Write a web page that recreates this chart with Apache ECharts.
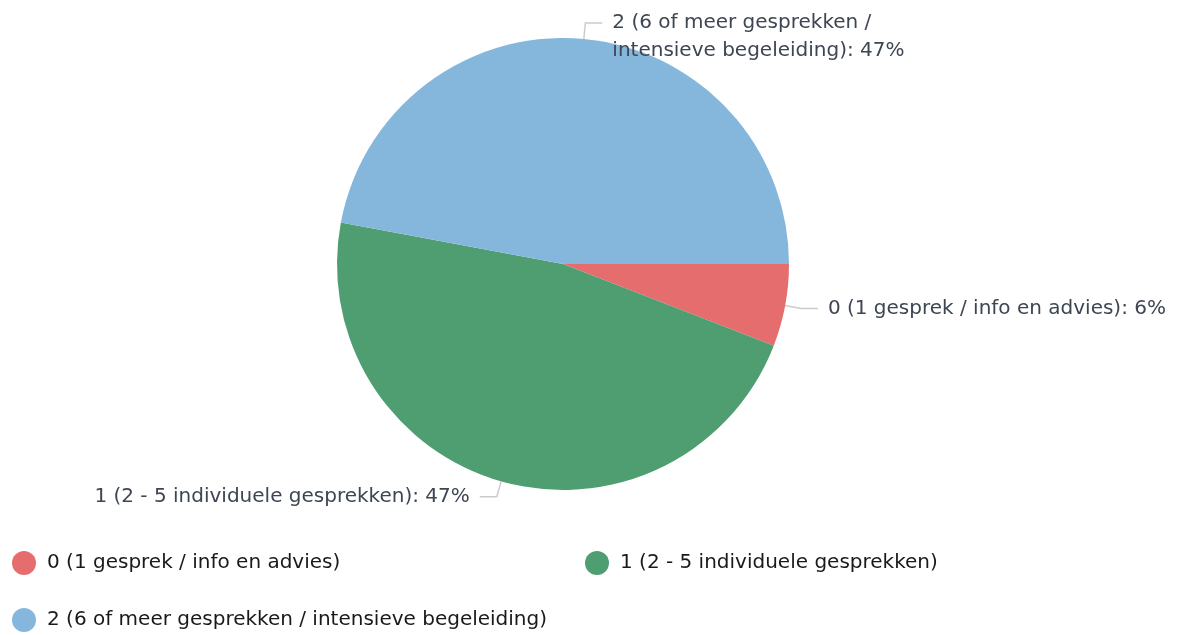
<!DOCTYPE html>
<html>
<head>
<meta charset="utf-8">
<script src="https://cdn.jsdelivr.net/npm/echarts@6/dist/echarts.min.js"></script>
<style>html,body{margin:0;padding:0;background:#fff}#c{width:1177px;height:635px}</style>
</head>
<body>
<div id="c"></div>
<script>
const categories = ['0 (1 gesprek / info en advies)', '1 (2 - 5 individuele gesprekken)', '2 (6 of meer gesprekken / intensieve begeleiding)'];
const values = [1, 8, 8];
const colors = ['#e56d6d', '#4e9e72', '#85b7dc'];

const FONT = 'DejaVu Sans';
const chart = echarts.init(document.getElementById('c'));
const total = values.reduce((a, b) => a + b, 0);
const data = categories.map((name, i) => {
  const item = { name: name, value: values[i], itemStyle: { color: colors[i] } };
  if (i === 2) item.label = { width: 320, overflow: 'break' };
  return item;
});
const legendPos = [
  { left: 12, top: 551 },
  { left: 585, top: 551 },
  { left: 12, top: 608 }
];
chart.setOption({
  animation: false,
  legend: categories.map((name, i) => ({
    data: [name],
    left: legendPos[i].left,
    top: legendPos[i].top,
    icon: 'circle',
    itemWidth: 24,
    itemHeight: 24,
    itemGap: 10,
    padding: 0,
    textStyle: { fontFamily: FONT, fontSize: 20, color: '#1a1a1a', padding: [0, 0, 0, 6] }
  })),
  series: [{
    type: 'pie',
    center: [563, 264],
    radius: 226,
    startAngle: 0,
    clockwise: true,
    avoidLabelOverlap: false,
    data: data,
    label: {
      show: true,
      fontFamily: FONT,
      fontSize: 20,
      lineHeight: 28,
      color: '#3d4652',
      distanceToLabelLine: 10,
      formatter: p => (p.dataIndex === 2 ? '\n' : '') + p.name + ': ' + Math.round(p.value / total * 100) + '%'
    },
    labelLine: {
      show: true,
      length: 16,
      length2: 17,
      lineStyle: { color: '#cccccc', width: 1.5 }
    },
    emphasis: { disabled: true }
  }]
});
</script>
</body>
</html>
